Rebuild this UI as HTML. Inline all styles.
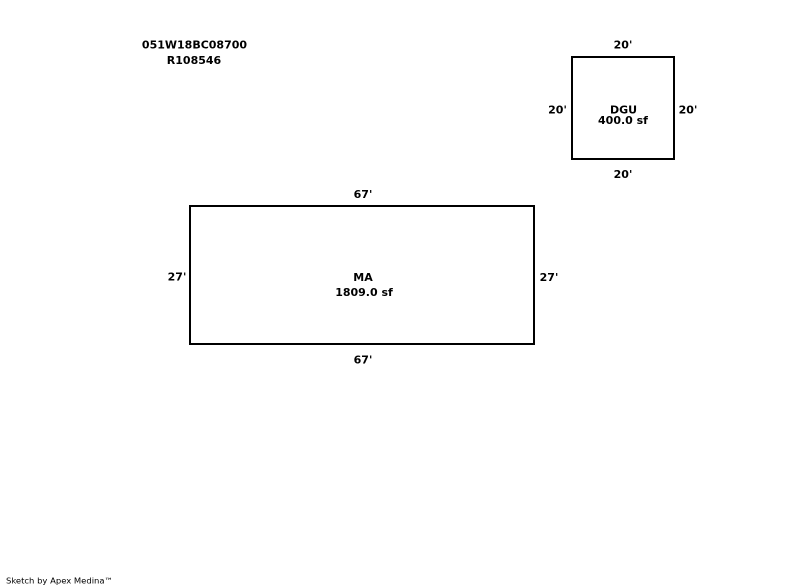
<!DOCTYPE html>
<html>
<head>
<meta charset="utf-8">
<style>
  html, body { margin: 0; padding: 0; background: #ffffff; }
  body { width: 800px; height: 587px; overflow: hidden; }
  svg { display: block; }
  .b { font-family: "DejaVu Sans", "Liberation Sans", sans-serif; font-weight: bold; font-size: 11px; fill: #000; }
  .f { font-family: "DejaVu Sans", "Liberation Sans", sans-serif; font-size: 8px; fill: #000; }
</style>
</head>
<body>
<svg width="800" height="587" viewBox="0 0 800 587" xmlns="http://www.w3.org/2000/svg">
  <rect x="0" y="0" width="800" height="587" fill="#ffffff"/>

  <!-- Header -->
  <text class="b" x="194.5" y="48.5" text-anchor="middle">051W18BC08700</text>
  <text class="b" x="194" y="64" text-anchor="middle">R108546</text>

  <!-- DGU box -->
  <rect x="572" y="57" width="102" height="102" fill="none" stroke="#000" stroke-width="2"/>
  <text class="b" x="623" y="48.5" text-anchor="middle">20'</text>
  <text class="b" x="557.5" y="113.5" text-anchor="middle">20'</text>
  <text class="b" x="688" y="113.5" text-anchor="middle">20'</text>
  <text class="b" x="623" y="178" text-anchor="middle">20'</text>
  <text class="b" x="623.5" y="113.5" text-anchor="middle">DGU</text>
  <text class="b" x="623" y="124" text-anchor="middle">400.0 sf</text>

  <!-- MA box -->
  <rect x="190" y="206" width="344" height="138" fill="none" stroke="#000" stroke-width="2"/>
  <text class="b" x="363" y="198" text-anchor="middle">67'</text>
  <text class="b" x="177" y="280.5" text-anchor="middle">27'</text>
  <text class="b" x="549" y="281" text-anchor="middle">27'</text>
  <text class="b" x="363" y="363.5" text-anchor="middle">67'</text>
  <text class="b" x="363" y="281" text-anchor="middle">MA</text>
  <text class="b" x="364" y="296" text-anchor="middle">1809.0 sf</text>

  <!-- Footer -->
  <text class="f" x="6" y="583.5" textLength="107" lengthAdjust="spacingAndGlyphs">Sketch by Apex Medina™</text>
</svg>
</body>
</html>
